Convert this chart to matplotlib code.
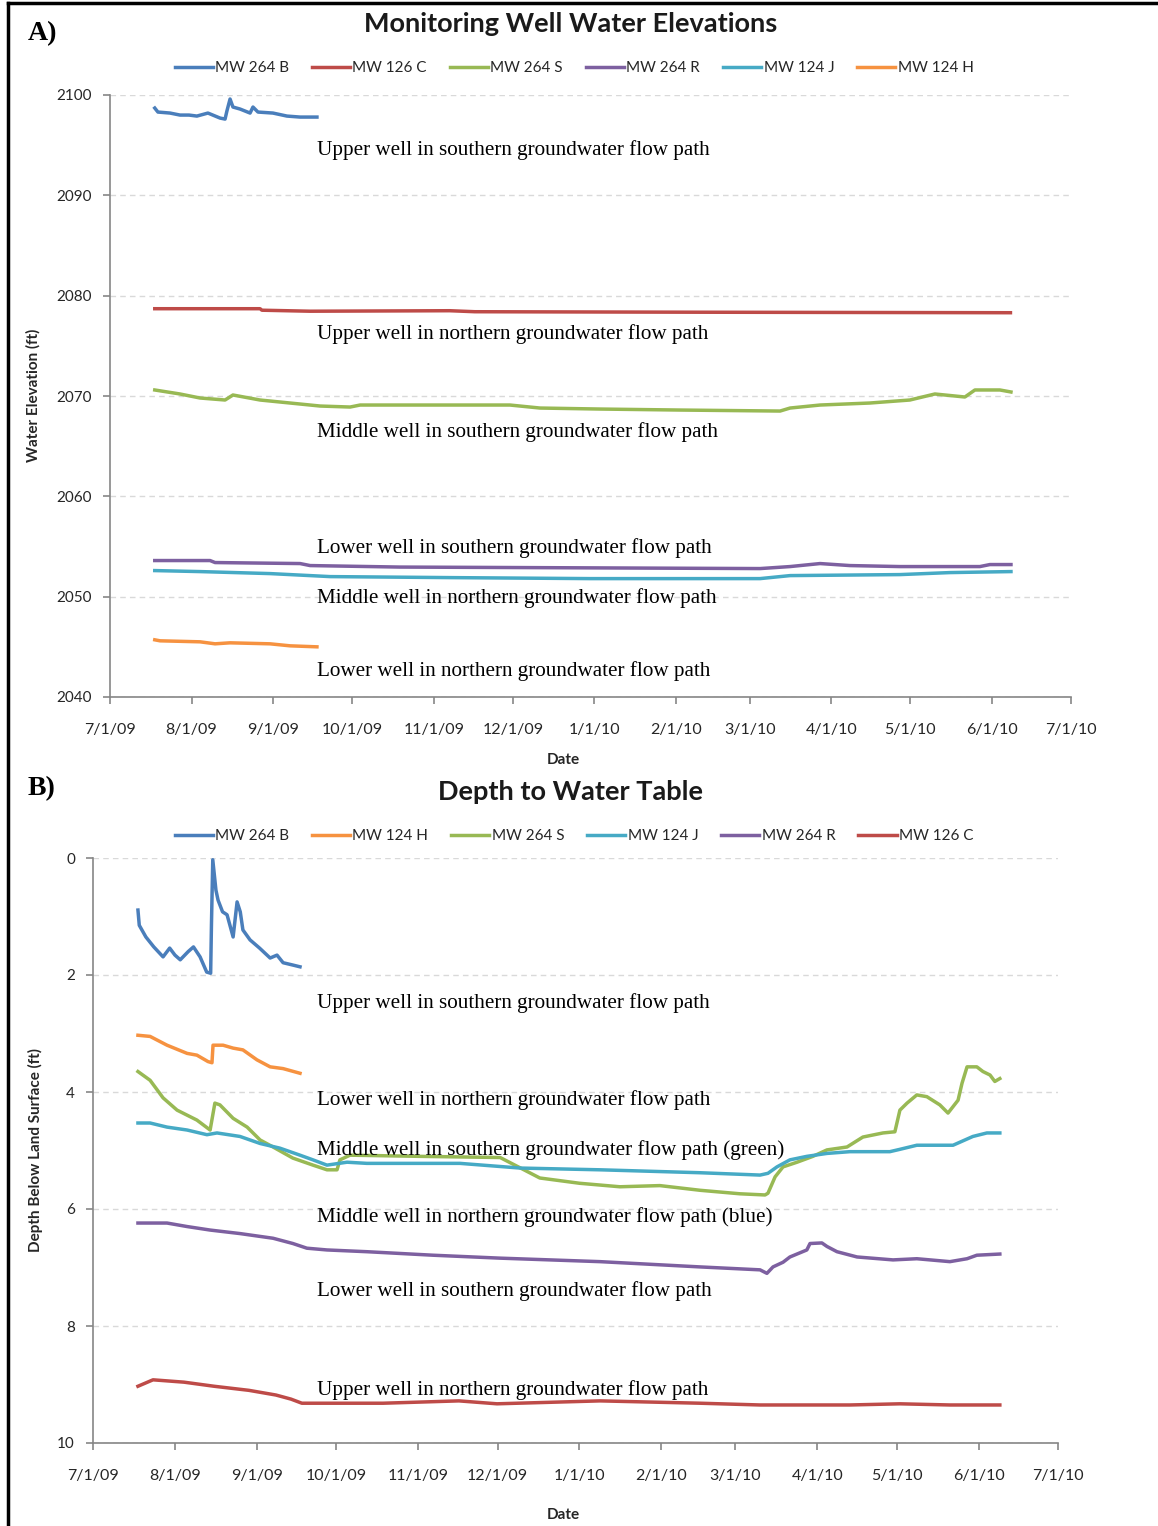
# Monitoring well water elevations (A) and depth to water table (B)

import numpy as np
import pandas as pd
import matplotlib
matplotlib.use('Agg')
import matplotlib.pyplot as plt
import matplotlib.dates as mdates
from matplotlib.lines import Line2D

# ---- data: days after 7/1/09 ----

# panel A, water elevation (ft)
a_264b_days = [17, 18.2, 22.8, 26.6, 30, 33, 37.2, 41.8, 43.7, 44.4, 45.6, 46.7, 49.4, 53.2, 54.3, 56.2, 61.9, 67.2, 72.2, 78.6]
a_264b_vals = [2098.7, 2098.3, 2098.2, 2098.0, 2098.0, 2097.9, 2098.2, 2097.7, 2097.6, 2098.4, 2099.6, 2098.8,
               2098.6, 2098.2, 2098.8, 2098.3, 2098.2, 2097.9, 2097.8, 2097.8]

a_126c_days = [17, 57, 57.7, 76, 129, 138.6, 224, 342]
a_126c_vals = [2078.7, 2078.7, 2078.55, 2078.45, 2078.5, 2078.4, 2078.35, 2078.3]

a_264s_days = [17, 26.6, 34.2, 43.7, 46.7, 57, 68.4, 79.8, 91.2, 95, 151.9, 163.3, 186.1, 216.5, 254.5, 258.3,
               269.7, 288.6, 303.8, 313.3, 320.9, 324.7, 328.5, 338, 342.2]
a_264s_vals = [2070.6, 2070.2, 2069.8, 2069.6, 2070.1, 2069.6, 2069.3, 2069.0, 2068.9, 2069.1, 2069.1, 2068.8,
               2068.7, 2068.6, 2068.5, 2068.8, 2069.1, 2069.3, 2069.6, 2070.2, 2070.0, 2069.9, 2070.6, 2070.6, 2070.4]

a_264r_days = [17, 38, 39.9, 72.2, 76, 110, 246.9, 258.3, 269.7, 281, 300, 330.4, 334.2, 342.2]
a_264r_vals = [2053.6, 2053.6, 2053.4, 2053.3, 2053.1, 2052.95, 2052.8, 2053.0, 2053.3, 2053.1, 2053.0, 2053.0,
               2053.2, 2053.2]

a_124j_days = [17, 34.2, 60.8, 83.6, 129.1, 182.3, 246.9, 258.3, 300, 319, 342.2]
a_124j_vals = [2052.6, 2052.5, 2052.3, 2052.0, 2051.9, 2051.8, 2051.8, 2052.1, 2052.2, 2052.4, 2052.5]

a_124h_days = [17, 19, 34.2, 39.9, 45.6, 60.8, 68.4, 78.6]
a_124h_vals = [2045.7, 2045.6, 2045.5, 2045.3, 2045.4, 2045.3, 2045.1, 2045.0]

# panel B, depth below land surface (ft)
b_264b_days = [17, 17.5, 20, 23, 26.5, 29, 31, 33, 36, 38, 40.5, 43, 44.5, 44.8, 45.3, 46.5, 47.3, 49, 50.7, 53,
               54.5, 55.7, 56.7, 59.4, 63, 67, 69.6, 71.9, 75.6, 78.3]
b_264b_vals = [0.89, 1.15, 1.35, 1.52, 1.69, 1.54, 1.66, 1.74, 1.6, 1.52, 1.69, 1.95, 1.97, 1.15, 0.03, 0.55,
               0.72, 0.92, 0.97, 1.35, 0.75, 0.92, 1.23, 1.40, 1.54, 1.71, 1.66, 1.79, 1.83, 1.86]

b_124h_days = [17, 21.6, 28, 35.6, 39.3, 43.5, 45, 45.4, 49.2, 53, 56.7, 62, 67, 71.9, 78.3]
b_124h_vals = [3.03, 3.05, 3.2, 3.34, 3.37, 3.48, 3.5, 3.2, 3.2, 3.25, 3.28, 3.45, 3.57, 3.6, 3.68]

b_264s_days = [17, 21.6, 26.5, 31.8, 39.3, 44.3, 46.1, 48, 53, 58.3, 63.2, 68.1, 75.6, 83.2, 88.5, 92.3, 93.4,
               97.2, 123.7, 154, 169, 184, 199.3, 214.4, 229.6, 244.7, 254.2, 255.3, 258, 261, 266.3, 272.3,
               277.6, 285.2, 291.2, 298.8, 303.3, 305.2, 307.9, 311.6, 315.4, 320.3, 323.4, 325.3, 327.2, 328.7,
               330.6, 334.3, 336.6, 339.3, 341.1, 343]
b_264s_vals = [3.65, 3.8, 4.1, 4.31, 4.48, 4.65, 4.19, 4.22, 4.45, 4.6, 4.82, 4.94, 5.13, 5.25, 5.33, 5.33, 5.16,
               5.08, 5.1, 5.12, 5.47, 5.56, 5.62, 5.6, 5.68, 5.74, 5.76, 5.73, 5.45, 5.28, 5.2, 5.1, 4.99, 4.94,
               4.77, 4.7, 4.68, 4.31, 4.19, 4.05, 4.08, 4.22, 4.36, 4.25, 4.14, 3.85, 3.57, 3.57, 3.65, 3.71,
               3.82, 3.77]

b_124j_days = [17, 21.6, 28, 35.6, 43.1, 46.9, 55.6, 63.2, 70.7, 78.3, 83.2, 88.5, 96.1, 103.6, 138.8, 161.5,
               191.8, 229.6, 252.3, 255.3, 258.7, 263.6, 270, 277.6, 286.3, 301.4, 305.2, 311.6, 325.3, 332.8,
               338.1, 343]
b_124j_vals = [4.53, 4.53, 4.6, 4.65, 4.73, 4.7, 4.76, 4.88, 4.96, 5.08, 5.16, 5.25, 5.2, 5.22, 5.22, 5.3, 5.33,
               5.38, 5.42, 5.39, 5.28, 5.16, 5.1, 5.05, 5.02, 5.02, 4.98, 4.91, 4.91, 4.76, 4.7, 4.7]

b_264r_days = [17, 28, 35.6, 44.3, 55.6, 68.1, 75.6, 80.9, 88.5, 103.6, 128.6, 153.9, 191.8, 229.6, 252.3, 254.9,
               257.2, 261, 263.6, 270, 271.2, 275.7, 277.6, 281.4, 289, 302.6, 311.6, 324.1, 330.6, 334.3, 343]
b_264r_vals = [6.24, 6.24, 6.3, 6.36, 6.42, 6.5, 6.59, 6.67, 6.7, 6.73, 6.79, 6.84, 6.9, 6.99, 7.04, 7.1, 6.99,
               6.91, 6.82, 6.7, 6.59, 6.58, 6.64, 6.73, 6.82, 6.87, 6.85, 6.9, 6.85, 6.79, 6.77]

b_126c_days = [17, 22.7, 34.4, 45.8, 59, 69.2, 74.9, 79, 109.7, 138.4, 152.8, 191.8, 229.6, 252.3, 286.3, 305.2,
               324.1, 343]
b_126c_vals = [9.03, 8.92, 8.96, 9.03, 9.1, 9.18, 9.25, 9.32, 9.32, 9.28, 9.33, 9.28, 9.32, 9.35, 9.35, 9.33,
               9.35, 9.35]

notes_a = ['Upper well in southern groundwater flow path',
           'Upper well in northern groundwater flow path',
           'Middle well in southern groundwater flow path',
           'Lower well in southern groundwater flow path',
           'Middle well in northern groundwater flow path',
           'Lower well in northern groundwater flow path']
notes_a_y = [150, 334, 432, 548, 598, 671]

notes_b = ['Upper well in southern groundwater flow path',
           'Lower well in northern groundwater flow path',
           'Middle well in southern groundwater flow path (green)',
           'Middle well in northern groundwater flow path (blue)',
           'Lower well in southern groundwater flow path',
           'Upper well in northern groundwater flow path']
notes_b_y = [1003, 1100, 1150, 1217, 1291, 1390]

# excel 2010 line colours
blue = '#4A7EBB'
red = '#BE4B48'
green = '#98B954'
purple = '#7D60A0'
aqua = '#46AAC5'
orange = '#F69240'

start = pd.Timestamp('2009-07-01')


def to_dates(days):
    return start + pd.to_timedelta(np.array(days), unit='D')


def date_label(x, pos):
    d = mdates.num2date(x)
    return '%d/%d/%s' % (d.month, d.day, d.strftime('%y'))


W, H = 1158, 1526
fig = plt.figure(figsize=(W / 100, H / 100), dpi=100)
sans = 'Lato'
serif = 'Liberation Serif'
lw = 2.5


def fx(px):
    return px / W


def fy(py):
    return 1 - py / H


def style_axes(ax):
    for s in ['top', 'right']:
        ax.spines[s].set_visible(False)
    for s in ['left', 'bottom']:
        ax.spines[s].set_color('#868686')
        ax.spines[s].set_linewidth(1.2)
    ax.yaxis.grid(True, linestyle=(0, (4, 3)), color='#D9D9D9', linewidth=1)
    ax.set_axisbelow(True)
    ax.set_xlim(pd.Timestamp('2009-07-01'), pd.Timestamp('2010-07-01'))
    ax.xaxis.set_major_locator(mdates.MonthLocator())
    ax.xaxis.set_major_formatter(plt.FuncFormatter(date_label))
    ax.tick_params(axis='both', colors='#868686', length=5, width=1.2, direction='out')
    ax.tick_params(axis='x', pad=14, labelcolor='#262626', labelsize=11.5)
    ax.tick_params(axis='y', pad=8, labelcolor='#262626', labelsize=11)
    for lab in ax.get_xticklabels() + ax.get_yticklabels():
        lab.set_family(sans)


# ---- panel A ----
axA = fig.add_axes([fx(110), fy(697), fx(1071) - fx(110), fy(95) - fy(697)])
axA.plot(to_dates(a_264b_days), a_264b_vals, color=blue, lw=lw, label='MW 264 B')
axA.plot(to_dates(a_126c_days), a_126c_vals, color=red, lw=lw, label='MW 126 C')
axA.plot(to_dates(a_264s_days), a_264s_vals, color=green, lw=lw, label='MW 264 S')
axA.plot(to_dates(a_264r_days), a_264r_vals, color=purple, lw=lw, label='MW 264 R')
axA.plot(to_dates(a_124j_days), a_124j_vals, color=aqua, lw=lw, label='MW 124 J')
axA.plot(to_dates(a_124h_days), a_124h_vals, color=orange, lw=lw, label='MW 124 H')
axA.set_ylim(2040, 2100)
axA.set_yticks(np.arange(2040, 2101, 10))
style_axes(axA)

# ---- panel B ----
axB = fig.add_axes([fx(93), fy(1443), fx(1058) - fx(93), fy(858) - fy(1443)])
axB.plot(to_dates(b_264b_days), b_264b_vals, color=blue, lw=lw, label='MW 264 B')
axB.plot(to_dates(b_124h_days), b_124h_vals, color=orange, lw=lw, label='MW 124 H')
axB.plot(to_dates(b_264s_days), b_264s_vals, color=green, lw=lw, label='MW 264 S')
axB.plot(to_dates(b_124j_days), b_124j_vals, color=aqua, lw=lw, label='MW 124 J')
axB.plot(to_dates(b_264r_days), b_264r_vals, color=purple, lw=lw, label='MW 264 R')
axB.plot(to_dates(b_126c_days), b_126c_vals, color=red, lw=lw, label='MW 126 C')
axB.set_ylim(10, 0)
axB.set_yticks(np.arange(0, 11, 2))
style_axes(axB)

# legends
for ax, ly in [(axA, 68), (axB, 836)]:
    h, l = ax.get_legend_handles_labels()
    leg = fig.legend(h, l, loc='center', bbox_to_anchor=(fx(574), fy(ly)), ncol=6, frameon=False,
                     handlelength=2.5, handletextpad=0.15, columnspacing=1.5,
                     prop={'family': sans, 'size': 11})
    for t in leg.get_texts():
        t.set_color('#262626')

# titles and axis labels
fig.text(fx(571), fy(24), 'Monitoring Well Water Elevations', ha='center', va='center',
         family=sans, fontsize=19.5, fontweight='bold', color='#1a1a1a')
fig.text(fx(571), fy(792), 'Depth to Water Table', ha='center', va='center',
         family=sans, fontsize=19.5, fontweight='bold', color='#1a1a1a')
fig.text(fx(563), fy(760), 'Date', ha='center', va='center', family=sans, fontsize=11,
         fontweight='bold', color='#262626')
fig.text(fx(563), fy(1515), 'Date', ha='center', va='center', family=sans, fontsize=11,
         fontweight='bold', color='#262626')
fig.text(fx(33), fy(395), 'Water Elevation (ft)', ha='center', va='center', rotation=90,
         family=sans, fontsize=11, fontweight='bold', color='#262626')
fig.text(fx(35), fy(1150), 'Depth Below Land Surface (ft)', ha='center', va='center', rotation=90,
         family=sans, fontsize=11, fontweight='bold', color='#262626')

# notes
for txt, y in zip(notes_a, notes_a_y):
    fig.text(fx(317), fy(y), txt, ha='left', va='center', family=serif, fontsize=15.2)
for txt, y in zip(notes_b, notes_b_y):
    fig.text(fx(317), fy(y), txt, ha='left', va='center', family=serif, fontsize=15.2)

# panel letters
fig.text(fx(28), fy(34), 'A)', ha='left', va='center', family=serif, fontsize=20, fontweight='bold')
fig.text(fx(28), fy(789), 'B)', ha='left', va='center', family=serif, fontsize=20, fontweight='bold')

# frame on the top and left edges
fig.add_artist(Line2D([fx(8), 1], [fy(3), fy(3)], color='black', lw=2.5))
fig.add_artist(Line2D([fx(8), fx(8)], [0, fy(3)], color='black', lw=2.5))

fig.savefig('out.png', dpi=100)
